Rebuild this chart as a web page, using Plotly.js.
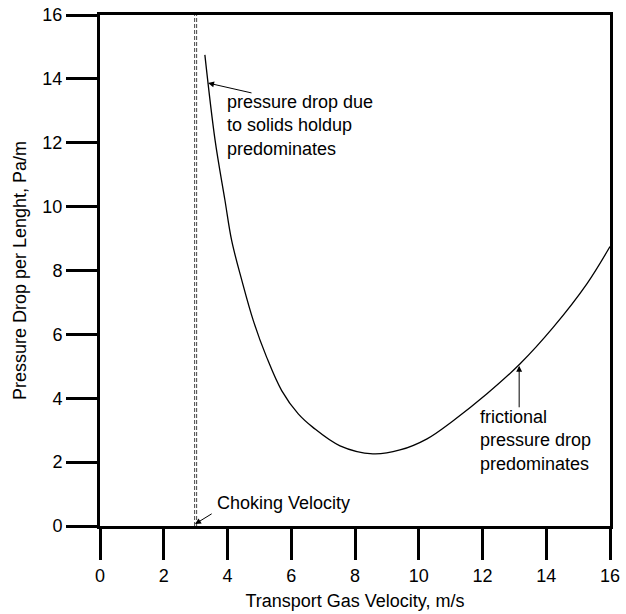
<!DOCTYPE html>
<html>
<head>
<meta charset="utf-8">
<script src="https://cdn.plot.ly/plotly-3.0.1.min.js"></script>
<style>html,body{margin:0;padding:0;background:#fff;}#chart{width:626px;height:614px;}</style>
</head>
<body>
<div id="chart"></div>
<script>
// Data
const curveX = [3.29, 3.61, 3.92, 4.13, 4.45, 4.81, 5.23, 5.70, 6.22, 6.69, 7.53, 8.56, 9.41, 10.26, 11.07, 12.14, 13.18, 14.21, 15.28, 16.0];
const curveY = [14.75, 12.08, 10.20, 8.94, 7.69, 6.43, 5.28, 4.24, 3.51, 3.08, 2.51, 2.26, 2.38, 2.73, 3.29, 4.14, 5.08, 6.21, 7.59, 8.75];
const chokingVelocity = 3.0;
const tickVals = [0, 2, 4, 6, 8, 10, 12, 14, 16];
const xTitle = "Transport Gas Velocity, m/s";
const yTitle = "Pressure Drop per Lenght, Pa/m";
const noteSolids = "pressure drop due<br>to solids holdup<br>predominates";
const noteFriction = "frictional<br>pressure drop<br>predominates";
const noteChoking = "Choking Velocity";

const font = {family: "Liberation Sans, Arial, sans-serif", size: 18, color: "#000"};

const traces = [
  {x: [chokingVelocity, chokingVelocity], y: [0, 16], mode: "lines",
   line: {color: "#444", width: 3, dash: "4px,2px"}, hoverinfo: "skip"},
  {x: [chokingVelocity, chokingVelocity], y: [0, 16], mode: "lines",
   line: {color: "#fff", width: 1}, hoverinfo: "skip"},
  {x: curveX, y: curveY, mode: "lines",
   line: {color: "#000", width: 1.3, shape: "spline", smoothing: 1}, hoverinfo: "skip"}
];

const axisCommon = {
  range: [0, 16], tickvals: tickVals, ticks: "outside", ticklen: 31, tickwidth: 3,
  tickcolor: "#000", showline: true, linewidth: 3, linecolor: "#000", mirror: true,
  showgrid: false, zeroline: false, tickfont: font
};

const layout = {
  width: 626, height: 614,
  margin: {l: 100, r: 16, t: 15, b: 88},
  paper_bgcolor: "#fff", plot_bgcolor: "#fff",
  showlegend: false,
  font: font,
  xaxis: Object.assign({}, axisCommon, {title: {text: xTitle, font: font, standoff: 10}}),
  yaxis: Object.assign({}, axisCommon, {title: {text: yTitle, font: font, standoff: 12}}),
  annotations: [
    {x: 3.92, y: 12.55, xref: "x", yref: "y", text: noteSolids, showarrow: false,
     xanchor: "left", yanchor: "middle", align: "left", font: font},
    {x: 3.39, y: 13.87, ax: 4.80, ay: 13.55, axref: "x", ayref: "y", xref: "x", yref: "y",
     text: "", showarrow: true, arrowhead: 2, arrowsize: 1.2, arrowwidth: 1, arrowcolor: "#000"},
    {x: 11.86, y: 2.67, xref: "x", yref: "y", text: noteFriction, showarrow: false,
     xanchor: "left", yanchor: "middle", align: "left", font: font},
    {x: 13.15, y: 5.02, ax: 13.15, ay: 3.67, axref: "x", ayref: "y", xref: "x", yref: "y",
     text: "", showarrow: true, arrowhead: 2, arrowsize: 1.2, arrowwidth: 1, arrowcolor: "#000"},
    {x: 3.61, y: 0.72, xref: "x", yref: "y", text: noteChoking, showarrow: false,
     xanchor: "left", yanchor: "middle", align: "left", font: font},
    {x: 2.98, y: 0.06, ax: 3.55, ay: 0.41, axref: "x", ayref: "y", xref: "x", yref: "y",
     text: "", showarrow: true, arrowhead: 2, arrowsize: 1.2, arrowwidth: 1, arrowcolor: "#000"}
  ]
};

Plotly.newPlot("chart", traces, layout, {displayModeBar: false, staticPlot: true});
</script>
</body>
</html>
